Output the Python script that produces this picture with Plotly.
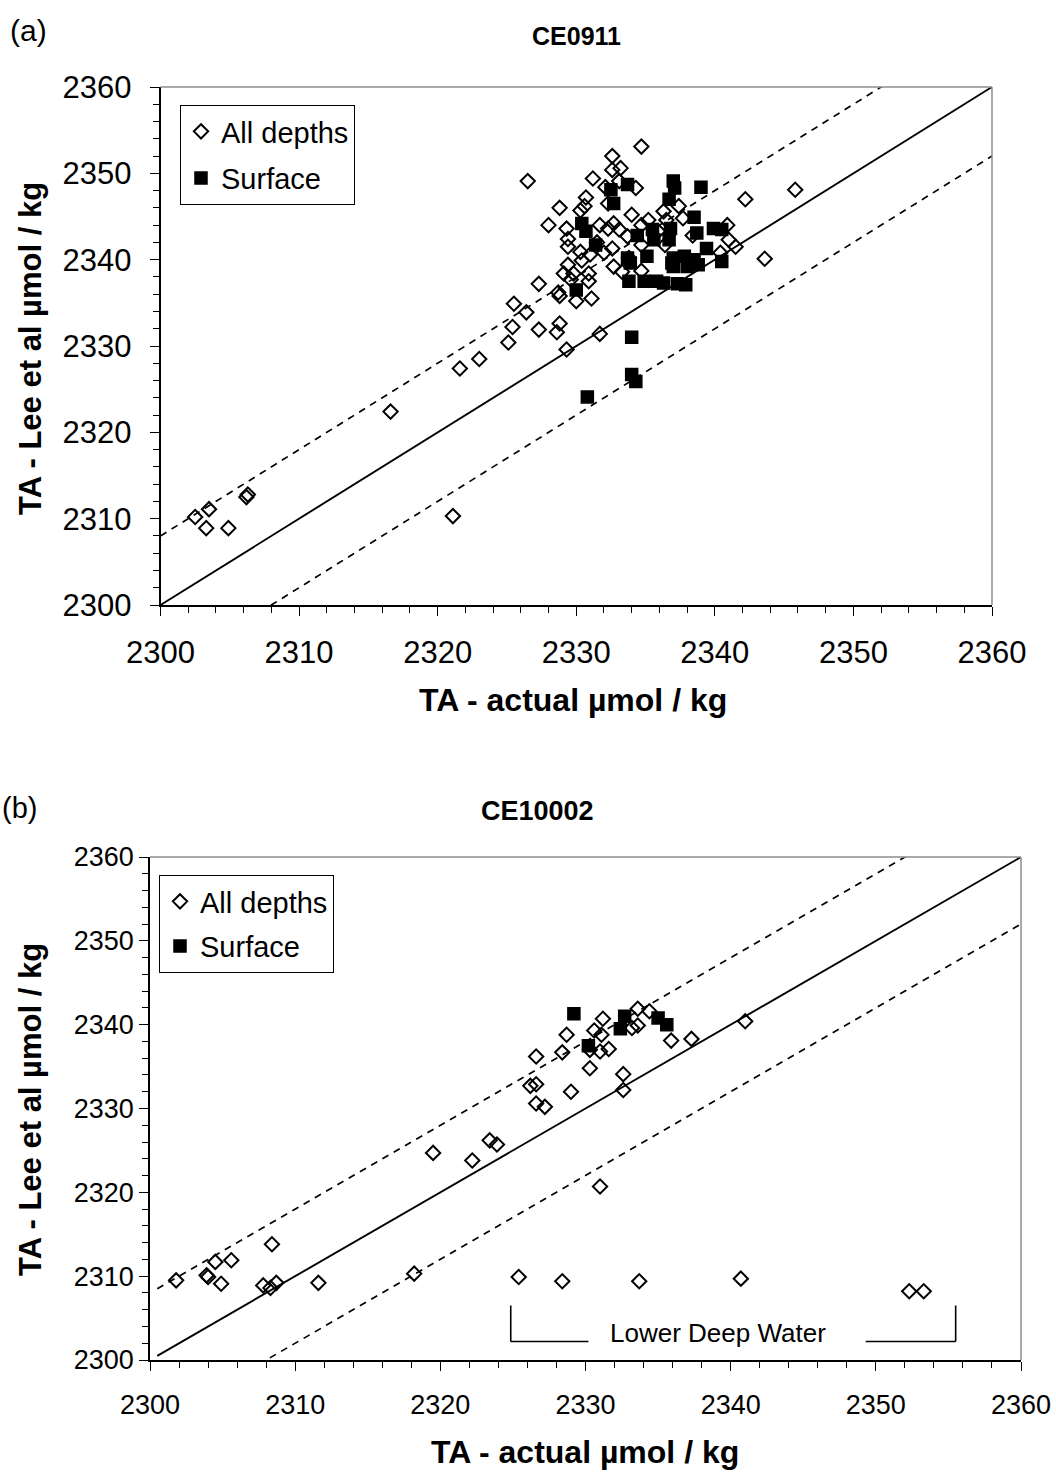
import plotly.graph_objects as go

# ---------------- data: panel (a) CE0911 ----------------
a_all_x = [2302.5, 2303.5, 2303.3, 2304.9, 2306.2, 2306.3, 2316.6, 2321.1, 2321.6, 2323.0,
           2325.1, 2325.4, 2325.5, 2326.4, 2327.3, 2328.8, 2328.6, 2329.3, 2331.7, 2327.3,
           2328.7, 2328.8, 2330.0, 2331.1, 2326.5, 2332.6, 2334.7, 2332.6, 2333.2, 2331.2,
           2333.1, 2334.3, 2332.1, 2330.7, 2328.8, 2330.6, 2330.3, 2332.3, 2328.0, 2329.3,
           2329.4, 2329.4, 2330.3, 2331.7, 2332.3, 2332.7, 2333.1, 2333.7, 2334.0, 2335.2,
           2336.3, 2337.4, 2337.7, 2336.5, 2332.6, 2332.0, 2331.0, 2330.4, 2329.4, 2329.1,
           2329.8, 2330.9, 2330.9, 2329.6, 2332.7, 2333.3, 2334.7, 2334.7, 2334.7, 2335.9,
           2340.4, 2341.0, 2341.5, 2340.9, 2342.2, 2343.6, 2345.8, 2338.4, 2336.4, 2331.5,
           2333.8]
a_all_y = [2310.2, 2311.1, 2308.9, 2308.9, 2312.5, 2312.8, 2322.4, 2310.3, 2327.4, 2328.5,
           2330.4, 2332.2, 2334.9, 2333.9, 2331.9, 2332.6, 2331.6, 2329.6, 2331.4, 2337.2,
           2336.2, 2335.8, 2335.2, 2335.5, 2349.1, 2352.0, 2353.1, 2350.4, 2350.6, 2349.4,
           2349.1, 2348.3, 2348.4, 2347.2, 2346.0, 2346.2, 2345.7, 2346.5, 2344.0, 2343.6,
           2342.4, 2341.5, 2340.9, 2344.0, 2343.6, 2344.2, 2343.5, 2342.7, 2345.2, 2344.6,
           2345.6, 2346.2, 2344.8, 2344.6, 2341.3, 2340.8, 2340.6, 2339.9, 2339.4, 2338.4,
           2338.4, 2338.4, 2337.5, 2337.7, 2339.2, 2338.6, 2338.7, 2341.7, 2344.0, 2343.3,
           2340.8, 2342.3, 2341.5, 2344.0, 2347.0, 2340.1, 2348.1, 2342.8, 2341.7, 2342.0,
           2340.2]

a_surf_x = [2333.7, 2332.5, 2332.7, 2337.0, 2337.1, 2339.0, 2336.7, 2330.4, 2330.7, 2331.4,
            2334.4, 2335.5, 2335.6, 2336.8, 2336.7, 2338.5, 2338.7, 2339.9, 2340.5, 2339.4,
            2340.5, 2333.7, 2333.9, 2335.1, 2337.0, 2337.8, 2338.5, 2337.0, 2338.0, 2338.8,
            2336.9, 2333.8, 2334.9, 2335.8, 2336.3, 2337.3, 2337.9, 2330.0, 2334.0, 2334.0,
            2334.3, 2330.8]
a_surf_y = [2348.7, 2348.1, 2346.5, 2349.1, 2348.3, 2348.4, 2347.0, 2344.2, 2343.3, 2341.7,
            2342.8, 2343.5, 2342.3, 2343.6, 2342.3, 2344.9, 2343.1, 2343.6, 2343.5, 2341.3,
            2339.8, 2340.2, 2339.6, 2340.4, 2340.2, 2340.4, 2340.0, 2339.2, 2339.2, 2339.4,
            2339.6, 2337.5, 2337.5, 2337.5, 2337.3, 2337.2, 2337.1, 2336.5, 2331.0, 2326.7,
            2325.9, 2324.1]

# ---------------- data: panel (b) CE10002 ----------------
b_all_x = [2301.8, 2303.9, 2304.0, 2304.5, 2304.9, 2305.6, 2307.8, 2308.3, 2308.7, 2308.4,
           2311.6, 2318.2, 2319.5, 2322.2, 2323.4, 2323.9, 2331.0, 2326.2, 2326.6, 2329.0,
           2326.6, 2327.2, 2326.6, 2328.4, 2328.7, 2330.3, 2331.0, 2331.6, 2330.3, 2332.6,
           2332.6, 2330.6, 2331.1, 2331.2, 2333.2, 2333.6, 2333.6, 2334.4, 2335.9, 2337.3,
           2341.0, 2325.4, 2328.4, 2333.7, 2340.7, 2352.3, 2353.3]
b_all_y = [2309.5, 2310.1, 2309.9, 2311.7, 2309.1, 2311.9, 2308.9, 2308.6, 2309.2, 2313.8,
           2309.2, 2310.3, 2324.7, 2323.8, 2326.2, 2325.7, 2320.7, 2332.7, 2332.9, 2332.0,
           2330.6, 2330.2, 2336.2, 2336.7, 2338.8, 2337.0, 2336.8, 2337.1, 2334.8, 2334.1,
           2332.2, 2339.3, 2338.8, 2340.7, 2339.6, 2339.9, 2341.9, 2341.6, 2338.1, 2338.3,
           2340.4, 2309.9, 2309.4, 2309.4, 2309.7, 2308.2, 2308.2]

b_surf_x = [2329.2, 2332.7, 2332.4, 2330.2, 2335.0, 2335.6]
b_surf_y = [2341.3, 2341.0, 2339.5, 2337.5, 2340.8, 2340.0]

# reference lines (1:1 and +/- offset)
line_a = [2300, 2360]
line_b = [2300.5, 2360]
band_offset = 8

# labels
series_names = ["All depths", "Surface"]
titles = ["CE0911", "CE10002"]
panel_tags = ["(a)", "(b)"]
x_title = "TA - actual µmol / kg"
y_title = "TA - Lee et al µmol / kg"
axis_range = [2300, 2360]
tick_vals = [2300, 2310, 2320, 2330, 2340, 2350, 2360]
ldw_label = "Lower Deep Water"
ldw_bracket_x = [2324.85, 2330.2, 2349.3, 2355.5]
ldw_bracket_y = [2306.5, 2302.2]
ldw_text_pos = [2339.1, 2303.2]

FONT = "Liberation Sans, Arial, sans-serif"
W, H = 1056, 1475

fig = go.Figure()

def add_panel(xa, ya, legend_name, all_x, all_y, surf_x, surf_y, lx):
    xs = "x" if xa == 1 else "x%d" % xa
    ys = "y" if ya == 1 else "y%d" % ya
    fig.add_trace(go.Scatter(x=lx, y=lx, mode="lines", xaxis=xs, yaxis=ys,
                             line=dict(color="black", width=1.9), showlegend=False,
                             hoverinfo="skip"))
    for off in (band_offset, -band_offset):
        fig.add_trace(go.Scatter(x=lx, y=[v + off for v in lx], mode="lines", xaxis=xs, yaxis=ys,
                                 line=dict(color="black", width=1.7, dash="7px,6px"),
                                 showlegend=False, hoverinfo="skip"))
    fig.add_trace(go.Scatter(x=all_x, y=all_y, mode="markers", name=series_names[0],
                             xaxis=xs, yaxis=ys, legend=legend_name, legendgroup="g1" + legend_name,
                             marker=dict(symbol="diamond-open", size=11, color="black",
                                         line=dict(width=2, color="black"))))
    fig.add_trace(go.Scatter(x=surf_x, y=surf_y, mode="markers", name=series_names[1],
                             xaxis=xs, yaxis=ys, legend=legend_name, legendgroup="g2" + legend_name,
                             marker=dict(symbol="square", size=12, color="black",
                                         line=dict(width=1.5, color="black"))))

add_panel(1, 1, "legend", a_all_x, a_all_y, a_surf_x, a_surf_y, line_a)
add_panel(2, 2, "legend2", b_all_x, b_all_y, b_surf_x, b_surf_y, line_b)

def px_x(p):
    return p / W

def px_y(p):
    return 1 - p / H

def axis_common(tick_size, standoff):
    return dict(range=axis_range, tickmode="array", tickvals=tick_vals,
                ticks="outside", ticklen=9, tickwidth=1.3, tickcolor="black",
                minor=dict(dtick=2, tick0=2300, ticks="outside", ticklen=6, tickwidth=1.3,
                           tickcolor="black", showgrid=False),
                showgrid=False, zeroline=False, showline=True, linecolor="black",
                linewidth=1.5, tickfont=dict(family=FONT, size=tick_size, color="black"),
                ticklabelstandoff=standoff, fixedrange=True, automargin=False)

fig.update_layout(
    template="none",
    width=W, height=H, autosize=False,
    margin=dict(l=0, r=0, t=0, b=0, pad=0),
    paper_bgcolor="white", plot_bgcolor="white",
    font=dict(family=FONT, color="black"),
    xaxis=dict(domain=[px_x(160.5), px_x(992)], anchor="y", **axis_common(31, 10)),
    yaxis=dict(domain=[px_y(605), px_y(87)], anchor="x", **axis_common(31, 12)),
    xaxis2=dict(domain=[px_x(150), px_x(1021)], anchor="y2", **axis_common(27, 11)),
    yaxis2=dict(domain=[px_y(1360), px_y(857)], anchor="x2", **axis_common(27, 0)),
    legend=dict(x=px_x(180), y=px_y(105), xanchor="left", yanchor="top",
                bordercolor="black", borderwidth=1, bgcolor="white",
                font=dict(family=FONT, size=29, color="black"), tracegroupgap=6,
                itemwidth=30),
    legend2=dict(x=px_x(159), y=px_y(875), xanchor="left", yanchor="top",
                 bordercolor="black", borderwidth=1, bgcolor="white",
                 font=dict(family=FONT, size=29, color="black"), tracegroupgap=4,
                 itemwidth=30),
    showlegend=True,
)

for xd, yd in (("x domain", "y domain"), ("x2 domain", "y2 domain")):
    fig.add_shape(type="line", xref=xd, yref=yd, x0=0, x1=1, y0=1, y1=1,
                  line=dict(color="#8c8c8c", width=1.5))
    fig.add_shape(type="line", xref=xd, yref=yd, x0=1, x1=1, y0=0, y1=1,
                  line=dict(color="#8c8c8c", width=1.5))

bx0, bx1, bx2, bx3 = ldw_bracket_x
by_top, by_bot = ldw_bracket_y
for (x0, y0, x1, y1) in ((bx0, by_top, bx0, by_bot), (bx0, by_bot, bx1, by_bot),
                         (bx2, by_bot, bx3, by_bot), (bx3, by_bot, bx3, by_top)):
    fig.add_shape(type="line", xref="x2", yref="y2", x0=x0, y0=y0, x1=x1, y1=y1,
                  line=dict(color="black", width=1.6))

ann = []
ann.append(dict(text=ldw_label, x=ldw_text_pos[0], y=ldw_text_pos[1], xref="x2", yref="y2",
                showarrow=False, font=dict(family=FONT, size=26, color="black")))
ann.append(dict(text=panel_tags[0], x=px_x(8), y=px_y(30), xref="paper", yref="paper",
                xanchor="left", yanchor="middle", showarrow=False,
                font=dict(family=FONT, size=30, color="black")))
ann.append(dict(text=panel_tags[1], x=px_x(0), y=px_y(808), xref="paper", yref="paper",
                xanchor="left", yanchor="middle", showarrow=False,
                font=dict(family=FONT, size=29, color="black")))
ann.append(dict(text="<b>%s</b>" % titles[0], x=px_x(576), y=px_y(36), xref="paper", yref="paper",
                xanchor="center", yanchor="middle", showarrow=False,
                font=dict(family=FONT, size=25, color="black")))
ann.append(dict(text="<b>%s</b>" % titles[1], x=px_x(537), y=px_y(811), xref="paper", yref="paper",
                xanchor="center", yanchor="middle", showarrow=False,
                font=dict(family=FONT, size=27, color="black")))
for cx, cy in ((573, 700), (585, 1452)):
    ann.append(dict(text="<b>%s</b>" % x_title, x=px_x(cx), y=px_y(cy), xref="paper", yref="paper",
                    xanchor="center", yanchor="middle", showarrow=False,
                    font=dict(family=FONT, size=32, color="black")))
for cx, cy in ((30, 349), (30, 1110)):
    ann.append(dict(text="<b>%s</b>" % y_title, x=px_x(cx), y=px_y(cy), xref="paper", yref="paper",
                    xanchor="center", yanchor="middle", showarrow=False, textangle=-90,
                    font=dict(family=FONT, size=31, color="black")))
fig.update_layout(annotations=ann)

# remove the default page margin so the figure fills the window exactly
fig.write_html("out.html", config={"displayModeBar": False},
               post_script="document.body.style.margin='0';document.body.style.overflow='hidden';")
